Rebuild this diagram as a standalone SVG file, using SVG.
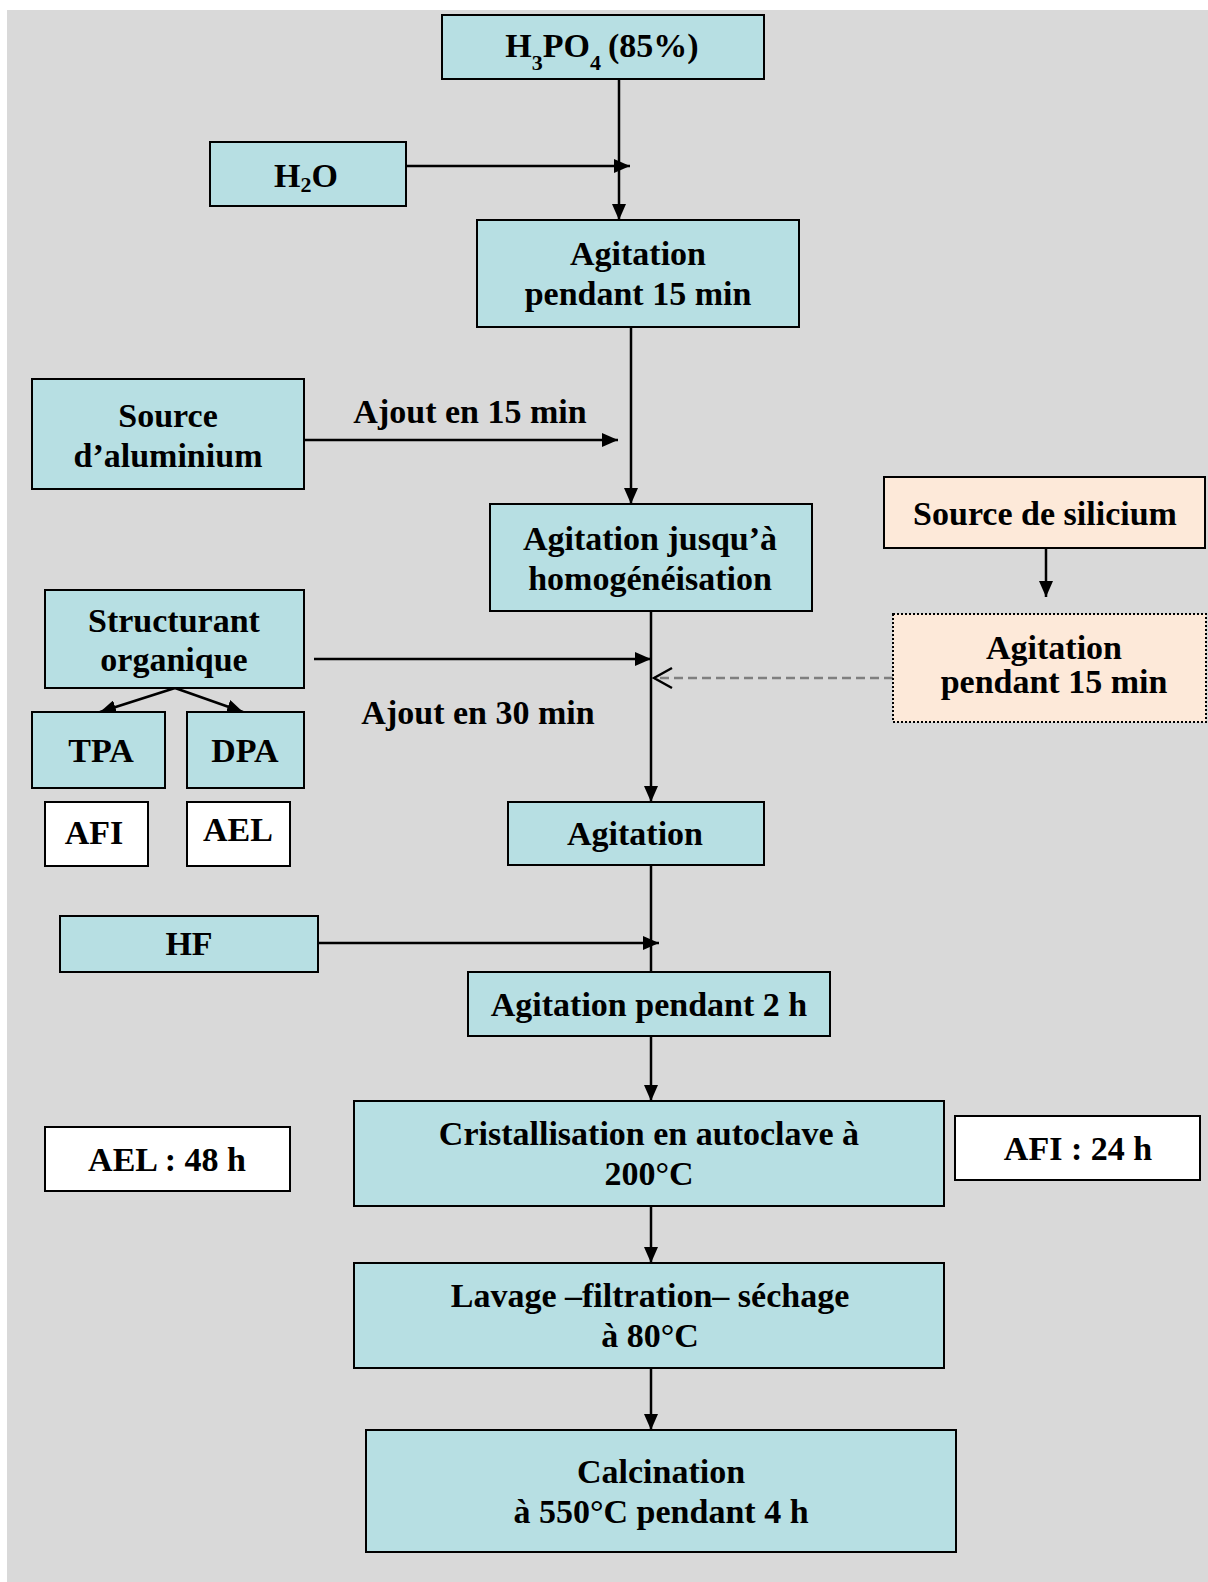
<svg xmlns="http://www.w3.org/2000/svg" width="1208" height="1582" viewBox="0 0 1208 1582">
<defs>
<style>
text{font-family:"Liberation Serif","Times New Roman",serif;font-weight:bold;font-size:34px;fill:#000;text-anchor:middle}
.box{fill:#b7dfe3;stroke:#000;stroke-width:2}
.wbox{fill:#fff;stroke:#000;stroke-width:2}
.pbox{fill:#fde9d9;stroke:#000;stroke-width:2}
.dot{stroke-dasharray:2,2}
.ln{stroke:#000;stroke-width:2.5;fill:none}
.dash{stroke:#7f7f7f;stroke-width:2.5;fill:none;stroke-dasharray:9,5}
</style>
<marker id="ah" viewBox="0 0 16 14" markerWidth="16" markerHeight="14" refX="16" refY="7" orient="auto" markerUnits="userSpaceOnUse">
<path d="M0,0 L16,7 L0,14 z" fill="#000"/>
</marker>
<marker id="oa" viewBox="0 0 22 24" markerWidth="22" markerHeight="24" refX="20" refY="12" orient="auto" markerUnits="userSpaceOnUse">
<path d="M2,2 L20,12 L2,22" fill="none" stroke="#000" stroke-width="2.5"/>
</marker>
</defs>
<rect x="7" y="10" width="1201" height="1572" fill="#d9d9d9"/>

<g id="connectors">
<line class="ln" x1="619" y1="79" x2="619" y2="220" marker-end="url(#ah)"/>
<line class="ln" x1="406" y1="166" x2="630" y2="166" marker-end="url(#ah)"/>
<line class="ln" x1="631" y1="327" x2="631" y2="504" marker-end="url(#ah)"/>
<line class="ln" x1="304" y1="440" x2="618" y2="440" marker-end="url(#ah)"/>
<line class="ln" x1="651" y1="611" x2="651" y2="802" marker-end="url(#ah)"/>
<line class="ln" x1="314" y1="659" x2="651" y2="659" marker-end="url(#ah)"/>
<line class="dash" x1="893" y1="678" x2="654" y2="678" marker-end="url(#oa)"/>
<line class="ln" x1="175" y1="688" x2="100" y2="712" marker-end="url(#ah)"/>
<line class="ln" x1="175" y1="688" x2="243" y2="712" marker-end="url(#ah)"/>
<line class="ln" x1="1046" y1="548" x2="1046" y2="597" marker-end="url(#ah)"/>
<line class="ln" x1="651" y1="865" x2="651" y2="972"/>
<line class="ln" x1="318" y1="943" x2="659" y2="943" marker-end="url(#ah)"/>
<line class="ln" x1="651" y1="1036" x2="651" y2="1101" marker-end="url(#ah)"/>
<line class="ln" x1="651" y1="1206" x2="651" y2="1263" marker-end="url(#ah)"/>
<line class="ln" x1="651" y1="1368" x2="651" y2="1430" marker-end="url(#ah)"/>
</g>

<g id="h3po4"><rect class="box" x="442" y="15" width="322" height="64"/>
<text x="602" y="57">H<tspan font-size="22" dy="13">3</tspan><tspan dy="-13">PO</tspan><tspan font-size="22" dy="13">4</tspan><tspan dx="7" dy="-13">(85%)</tspan></text></g>

<g id="h2o"><rect class="box" x="210" y="142" width="196" height="64"/>
<text x="306" y="187">H<tspan font-size="22" dy="5">2</tspan><tspan dy="-5">O</tspan></text></g>

<g id="agit15"><rect class="box" x="477" y="220" width="322" height="107"/>
<text x="638" y="265">Agitation</text><text x="638" y="305">pendant 15 min</text></g>

<g id="alu"><rect class="box" x="32" y="379" width="272" height="110"/>
<text x="168" y="427">Source</text><text x="168" y="467">d’aluminium</text></g>
<text x="470" y="423">Ajout en 15 min</text>

<g id="agithomo"><rect class="box" x="490" y="504" width="322" height="107"/>
<text x="650" y="550">Agitation jusqu’à</text><text x="650" y="590">homogénéisation</text></g>

<g id="struct"><rect class="box" x="45" y="590" width="259" height="98"/>
<text x="174" y="632">Structurant</text><text x="174" y="671">organique</text></g>
<text x="478" y="724">Ajout en 30 min</text>

<g id="tpa"><rect class="box" x="32" y="712" width="133" height="76"/><text x="101" y="762">TPA</text></g>
<g id="dpa"><rect class="box" x="187" y="712" width="117" height="76"/><text x="245" y="762">DPA</text></g>
<g id="afi"><rect class="wbox" x="45" y="802" width="103" height="64"/><text x="94" y="844">AFI</text></g>
<g id="ael"><rect class="wbox" x="187" y="802" width="103" height="64"/><text x="238" y="841">AEL</text></g>

<g id="silicium"><rect class="pbox" x="884" y="477" width="321" height="71"/><text x="1045" y="525">Source de silicium</text></g>
<g id="agitsi"><rect class="pbox dot" x="893" y="614" width="313" height="108"/>
<text x="1054" y="659">Agitation</text><text x="1054" y="693">pendant 15 min</text></g>

<g id="agit"><rect class="box" x="508" y="802" width="256" height="63"/><text x="635" y="845">Agitation</text></g>

<g id="hf"><rect class="box" x="60" y="916" width="258" height="56"/><text x="189" y="955">HF</text></g>

<g id="agit2h"><rect class="box" x="468" y="972" width="362" height="64"/><text x="649" y="1016">Agitation pendant 2 h</text></g>

<g id="cristal"><rect class="box" x="354" y="1101" width="590" height="105"/>
<text x="649" y="1145">Cristallisation en autoclave à</text><text x="649" y="1185">200°C</text></g>

<g id="ael48"><rect class="wbox" x="45" y="1127" width="245" height="64"/><text x="167" y="1171">AEL : 48 h</text></g>
<g id="afi24"><rect class="wbox" x="955" y="1116" width="245" height="64"/><text x="1078" y="1160">AFI : 24 h</text></g>

<g id="lavage"><rect class="box" x="354" y="1263" width="590" height="105"/>
<text x="650" y="1307">Lavage –filtration– séchage</text><text x="650" y="1347">à 80°C</text></g>

<g id="calcination"><rect class="box" x="366" y="1430" width="590" height="122"/>
<text x="661" y="1483">Calcination</text><text x="661" y="1523">à 550°C pendant 4 h</text></g>
</svg>
